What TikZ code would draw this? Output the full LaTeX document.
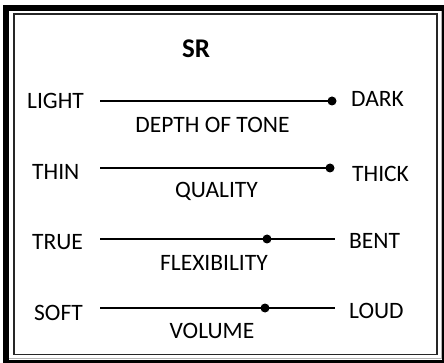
\documentclass[tikz,border=0pt]{standalone}
\usepackage{fontspec}
\setmainfont{Carlito}
\begin{document}
\begin{tikzpicture}[x=1pt,y=-1pt,
  lbl/.style={inner sep=0pt, anchor=base west, font=\fontsize{23.5}{26}\selectfont},
  ttl/.style={inner sep=0pt, anchor=base, font=\fontsize{23.5}{26}\selectfont},
  scaleline/.style={line width=2pt},
  knob/.style={circle, fill=black, inner sep=0pt, minimum size=9pt}]
\useasboundingbox (0,0) rectangle (444,363);
% frame
\fill[black] (3,5) rectangle (444,363);
\fill[white] (9,11) rectangle (442,360);
\draw[gray!60, line width=1pt] (441.5,11) -- (441.5,358.5) -- (9,358.5);
\draw[black!85, line width=1.6pt] (13.8,13.8) rectangle (437,354.5);
% title
\node[ttl, font=\fontsize{27}{30}\selectfont\bfseries] (sr) at (196,58) {SR};
% row 1
\node[lbl] (light) at (27,109) {LIGHT};
\node[lbl] (dark) at (351,107) {DARK};
\node[ttl] (depth) at (212.5,133) {DEPTH OF TONE};
\coordinate (a1) at (100,101);
\node[knob] (k1) at (332,101) {};
\draw[scaleline] (a1) -- (k1.center);
% row 2
\node[lbl] (thin) at (32,180) {THIN};
\node[lbl] (thick) at (352,182) {THICK};
\node[ttl] (quality) at (216.5,198) {QUALITY};
\coordinate (a2) at (100,168);
\node[knob] (k2) at (330,168) {};
\draw[scaleline] (a2) -- (k2.center);
% row 3
\node[lbl] (true) at (32,250) {TRUE};
\node[lbl] (bent) at (349,248) {BENT};
\node[ttl] (flex) at (214,270) {FLEXIBILITY};
\coordinate (a3) at (100,239);
\coordinate (b3) at (335,239);
\node[knob] (k3) at (267,239) {};
\draw[scaleline] (a3) -- (b3);
% row 4
\node[lbl] (soft) at (34,320) {SOFT};
\node[lbl] (loud) at (349,318) {LOUD};
\node[ttl] (volume) at (212,338) {VOLUME};
\coordinate (a4) at (100,308);
\coordinate (b4) at (335,308);
\node[knob] (k4) at (265,308) {};
\draw[scaleline] (a4) -- (b4);
\end{tikzpicture}
\end{document}
